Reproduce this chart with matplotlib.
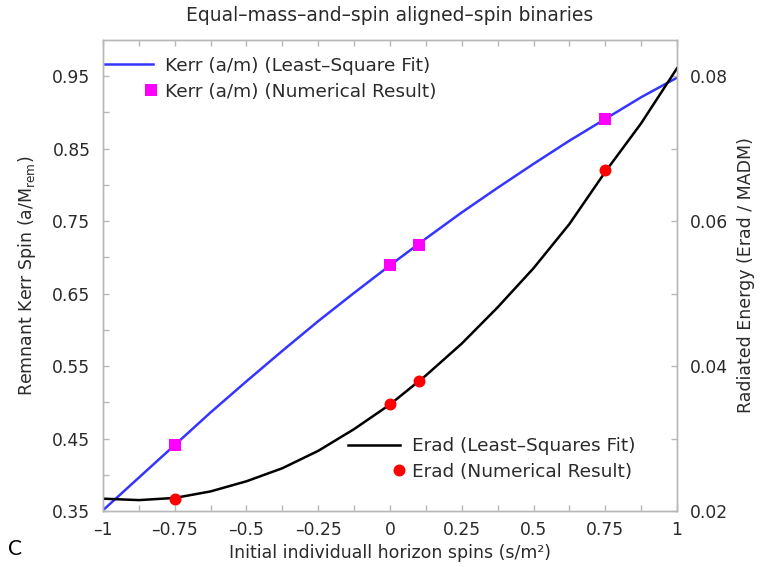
import matplotlib
matplotlib.use("Agg")
import matplotlib.pyplot as plt
import numpy as np

# numerical results for the four aligned-spin runs
spins = [-0.75, 0.0, 0.1, 0.75]
kerr_num = [0.441, 0.689, 0.717, 0.891]
erad_num = [0.0217, 0.0347, 0.0379, 0.0671]

# least-squares fit curves, sampled every 1/8 in spin
fit_spins = [-1.0, -0.875, -0.75, -0.625, -0.5, -0.375, -0.25, -0.125, 0.0,
             0.125, 0.25, 0.375, 0.5, 0.625, 0.75, 0.875, 1.0]
kerr_fit = [0.351, 0.396, 0.441, 0.486, 0.529, 0.571, 0.612, 0.651, 0.689,
            0.726, 0.762, 0.796, 0.829, 0.861, 0.891, 0.921, 0.948]
erad_fit = [0.0217, 0.0215, 0.0218, 0.0227, 0.0241, 0.0259, 0.0283, 0.0313, 0.0347,
            0.0387, 0.0431, 0.0481, 0.0535, 0.0596, 0.0668, 0.0735, 0.0811]

x_ticks = [-1, -0.75, -0.5, -0.25, 0, 0.25, 0.5, 0.75, 1]
x_tick_labels = ["–1", "–0.75", "–0.5", "–0.25", "0", "0.25", "0.5", "0.75", "1"]
kerr_ticks = [0.35, 0.45, 0.55, 0.65, 0.75, 0.85, 0.95]
kerr_tick_labels = ["0.35", "0.45", "0.55", "0.65", "0.75", "0.85", "0.95"]
erad_ticks = [0.02, 0.04, 0.06, 0.08]
erad_tick_labels = ["0.02", "0.04", "0.06", "0.08"]

TEXT = "#2a2a2a"
FRAME = "#b8b8b8"
BLUE = "#3535ff"

fig = plt.figure(figsize=(7.65, 5.67), dpi=100)
ax = fig.add_axes([0.1346, 0.0988, 0.7504, 0.8307])
ax2 = ax.twinx()

kerr_line, = ax.plot(fit_spins, kerr_fit, color=BLUE, lw=1.8,
                     label="Kerr (a/m) (Least–Square Fit)")
kerr_pts, = ax.plot(spins, kerr_num, ls="none", marker="s", ms=8.2, mew=0,
                    color="#ff00ff", label="Kerr (a/m) (Numerical Result)")
erad_line, = ax2.plot(fit_spins, erad_fit, color="black", lw=1.8,
                      label="Erad (Least–Squares Fit)")
erad_pts, = ax2.plot(spins, erad_num, ls="none", marker="o", ms=8.6, mew=0,
                     color="#ff0000", label="Erad (Numerical Result)")

ax.set_xlim(-1, 1)
ax.set_ylim(0.35, 1.0)
ax2.set_ylim(0.02, 0.085)

ax.set_xticks(x_ticks)
ax.set_xticklabels(x_tick_labels)
ax.set_xticks(np.arange(-0.875, 1.0, 0.25), minor=True)
ax.set_yticks(kerr_ticks)
ax.set_yticklabels(kerr_tick_labels)
ax.set_yticks(np.arange(0.40, 0.95, 0.1), minor=True)
ax2.set_yticks(erad_ticks)
ax2.set_yticklabels(erad_tick_labels)
ax2.set_yticks([0.03, 0.05, 0.07], minor=True)

for a in (ax, ax2):
    for sp in a.spines.values():
        sp.set_color(FRAME)
        sp.set_linewidth(1.0)
    a.tick_params(which="both", direction="in", length=4, width=1,
                  color=FRAME, labelcolor=TEXT, labelsize=12.3, pad=9)
ax.tick_params(axis="x", which="both", top=True, pad=7)
ax.tick_params(axis="y", which="both", right=False)

ax.set_xlabel("Initial individuall horizon spins (s/m²)", fontsize=12.5,
              color=TEXT, labelpad=4)
ax.set_ylabel(r"Remnant Kerr Spin (a/M$_{\rm rem}$)", fontsize=12.5,
              color=TEXT, labelpad=10)
ax2.set_ylabel("Radiated Energy (Erad / MADM)", fontsize=12.5, color=TEXT,
               labelpad=7)
ax.set_title("Equal–mass–and–spin aligned–spin binaries", fontsize=13.5,
             color=TEXT, pad=14)

# legends: line entries and marker entries are placed separately so that
# the texts line up while the markers sit just before the text
leg_kw = dict(frameon=False, borderpad=0, borderaxespad=0, fontsize=13.3,
              loc="center left", labelcolor=TEXT)
leg = ax.legend(handles=[kerr_line], bbox_to_anchor=(0.0035, 0.945),
                handlelength=2.6, handletextpad=0.65, **leg_kw)
ax.add_artist(leg)
ax.legend(handles=[kerr_pts], bbox_to_anchor=(0.0707, 0.890),
          handlelength=0.8, handletextpad=0.36, **leg_kw)
leg = ax2.legend(handles=[erad_line], bbox_to_anchor=(0.4268, 0.138),
                 handlelength=2.8, handletextpad=0.65, **leg_kw)
ax2.add_artist(leg)
ax2.legend(handles=[erad_pts], bbox_to_anchor=(0.5028, 0.0834),
           handlelength=0.8, handletextpad=0.31, **leg_kw)

fig.text(0.011, 0.021, "C", fontsize=15, family="Lato", color="black")

fig.savefig("out.png", dpi=100)
